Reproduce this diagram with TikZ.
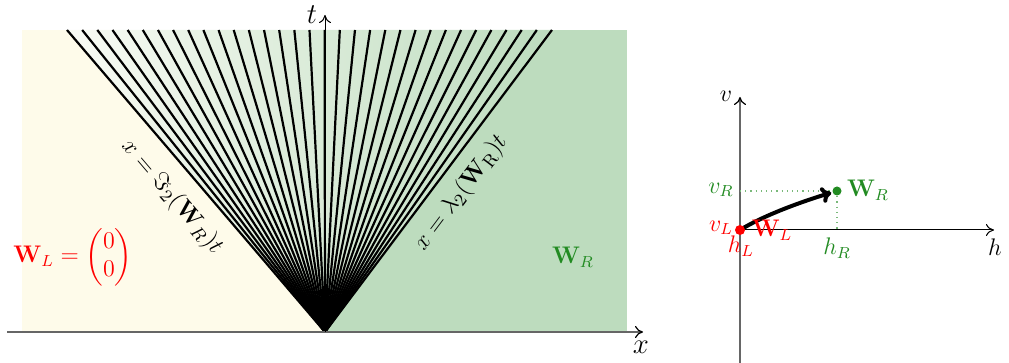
\documentclass[tikz,border=0pt]{standalone}
\usepackage{amsmath}
\usetikzlibrary{arrows.meta}
\definecolor{ybg}{RGB}{254,251,234}
\definecolor{gbg}{RGB}{189,220,190}
\definecolor{fgreen}{RGB}{34,139,34}
\begin{document}
\begin{tikzpicture}[x=0.5pt,y=-0.5pt,
  fanline/.style={line width=1.1pt,black},
  axisline/.style={line width=0.6pt,black!60,-{To[color=black,length=4pt,width=6pt]}},
  blackaxis/.style={line width=0.5pt,black,-{To[length=4pt,width=6pt]}},
  lbl/.style={inner sep=1pt,font=\normalsize},
  rot/.style={inner sep=0pt,font=\fontsize{12.5}{14}\selectfont},
  dotted guide/.style={fgreen!60,dotted,line width=0.6pt}]
\useasboundingbox (0,0) rectangle (1009,363);
% backgrounds
\fill[ybg] (22,30) rectangle (325,332);
\fill[gbg] (325,30) rectangle (627,332);
\coordinate (O) at (325,332);
\coordinate (TL) at (67,30);
\coordinate (TR) at (552,30);
\shade[left color=ybg!70!gbg!30, right color=gbg] (O) -- (TL) -- (TR) -- cycle;
% fan
\foreach \k in {0,...,32}{
  \draw[fanline] (O) -- ({67+\k*485/32},30);
}
% axes left
\coordinate (xs) at (7,332);
\coordinate (xe) at (643,332);
\coordinate (te) at (325,15);
\draw[axisline] (xs) -- (xe);
\draw[blackaxis] (O) -- (te);
\node[lbl,font=\Large] (tl) at (312,15) {$t$};
\node[lbl,font=\Large] (xl) at (641,347) {$x$};
% labels left
\node[rot,rotate=-49.5] (lam1) at (172,197) {$x=\Im_2(\mathbf{W}_R)t$};
\node[rot,rotate=53] (lam2) at (461,193) {$x=\lambda_2(\mathbf{W}_{\mathrm{R}})t$};
\node[text=red,font=\large] (wl) at (73,257) {$\mathbf{W}_L=\begin{pmatrix}0\\0\end{pmatrix}$};
\node[text=fgreen,font=\large] (wr) at (573,257) {$\mathbf{W}_R$};
% right panel
\coordinate (P0) at (740,230);
\coordinate (vb) at (740,363);
\coordinate (vt) at (740,97);
\coordinate (he) at (994,230);
\coordinate (PR) at (837,191);
\coordinate (vRa) at (740,191);
\coordinate (hRa) at (837,230);
\draw[axisline] (vb) -- (vt);
\draw[blackaxis] (P0) -- (he);
\draw[dotted guide] (vRa) -- (PR);
\draw[dotted guide] (PR) -- (hRa);
\draw[line width=2pt,-{To[length=5pt,width=8pt]},shorten >=3pt]
  (P0) .. controls (766,214) and (807,200) .. (PR);
\fill[red] (P0) circle (5);
\fill[fgreen] (PR) circle (4.5);
\node[lbl,font=\large] (vl) at (726,96) {$v$};
\node[lbl,font=\large] (hl) at (995,247) {$h$};
\node[lbl,font=\large,text=fgreen] (vR) at (721,190) {$v_R$};
\node[lbl,font=\large,text=red] (vL) at (721,228) {$v_L$};
\node[lbl,font=\large,text=red] (hL) at (741,246) {$h_L$};
\node[lbl,font=\large,text=red] (WL) at (772,230) {$\mathbf{W}_L$};
\node[lbl,font=\large,text=fgreen] (hR) at (837,248) {$h_R$};
\node[lbl,font=\large,text=fgreen] (WR) at (868,190) {$\mathbf{W}_R$};
\end{tikzpicture}
\end{document}
